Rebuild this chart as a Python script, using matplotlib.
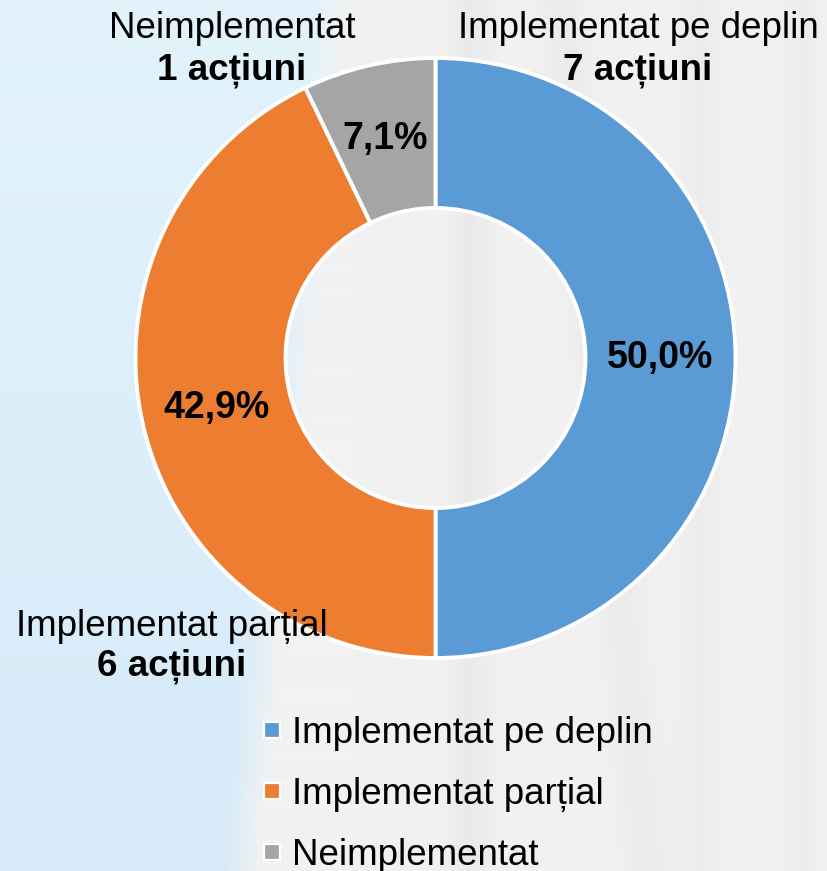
import numpy as np
import matplotlib
matplotlib.use("Agg")
import matplotlib.pyplot as plt
from matplotlib.lines import Line2D

# ---- data ----
categories = ["Implementat pe deplin", "Implementat parțial", "Neimplementat"]
actions = [7, 6, 1]
pct_labels = ["50,0%", "42,9%", "7,1%"]
count_labels = ["7 acțiuni", "6 acțiuni", "1 acțiuni"]
colors = ["#5B9BD5", "#ED7D31", "#A5A5A5"]

plt.rcParams['font.family'] = ['Liberation Sans', 'DejaVu Sans']

W, H = 827, 871
fig = plt.figure(figsize=(W / 100, H / 100), dpi=100)

# ---- background ----
yy, xx = np.mgrid[0:H, 0:W].astype(float)
blue_top = np.array([226, 243, 252]) / 255
blue_bot = np.array([214, 234, 248]) / 255
t = (yy / H)[..., None]
blue = blue_top * (1 - t) + blue_bot * t
gray = np.full((H, W, 3), 242 / 255)
streak = (0.03 * np.exp(-((xx - 470) / 20) ** 2)
          + 0.025 * np.exp(-((xx - 560 - 0.1 * yy) / 25) ** 2)
          + 0.02 * np.exp(-((xx - 700) / 25) ** 2)
          + 0.02 * np.exp(-((xx - 800) / 20) ** 2))
gray = gray - streak[..., None]
boundary = 330 - 90 * (yy / H)
m = np.clip((xx - boundary) / 40 + 0.5, 0, 1)[..., None]
bg = blue * (1 - m) + gray * m
bgax = fig.add_axes([0, 0, 1, 1], zorder=0)
bgax.imshow(bg, aspect='auto', extent=[0, W, H, 0])
bgax.axis('off')

# ---- donut ----
cx, cy, R = 435.5, 358, 300
ax = fig.add_axes([(cx - R) / W, (H - cy - R) / H, 2 * R / W, 2 * R / H], zorder=1)
wedges, _ = ax.pie(actions, colors=colors, startangle=90, counterclock=False,
                   radius=1.0, wedgeprops=dict(width=0.5, edgecolor='white', linewidth=2.8))
ax.set_xlim(-1, 1)
ax.set_ylim(-1, 1)
ax.set_aspect('equal')
ax.axis('off')

total = sum(actions)
ang = 90.0
for v, lab in zip(actions, pct_labels):
    span = 360.0 * v / total
    mid = np.deg2rad(ang - span / 2)
    ax.text(0.75 * np.cos(mid), 0.75 * np.sin(mid), lab, ha='center', va='center',
            fontsize=27, fontweight='bold', color='black')
    ang -= span

# ---- outer labels (figure pixel positions) ----
outer_pos = [(638, 28, 70), (172, 626, 666), (232, 28, 70)]
for (x, y1, y2), cat, cl in zip(outer_pos, categories, count_labels):
    fig.text(x / W, 1 - y1 / H, cat, ha='center', va='center', fontsize=26.5, color='black')
    fig.text(x / W, 1 - y2 / H, cl, ha='center', va='center', fontsize=26.5,
             fontweight='bold', color='black')

# ---- legend ----
handles = [Line2D([], [], linestyle='none', marker='s', markersize=11,
                  markerfacecolor=c, markeredgecolor='white', markeredgewidth=1.6)
           for c in colors]
fig.legend(handles, categories, loc='upper left', bbox_to_anchor=(263 / W, 1 - 716 / H),
           frameon=False, fontsize=26.5, handlelength=0.5, handletextpad=0.3,
           labelspacing=0.7, borderpad=0, borderaxespad=0)

fig.savefig("out.png", dpi=100)
